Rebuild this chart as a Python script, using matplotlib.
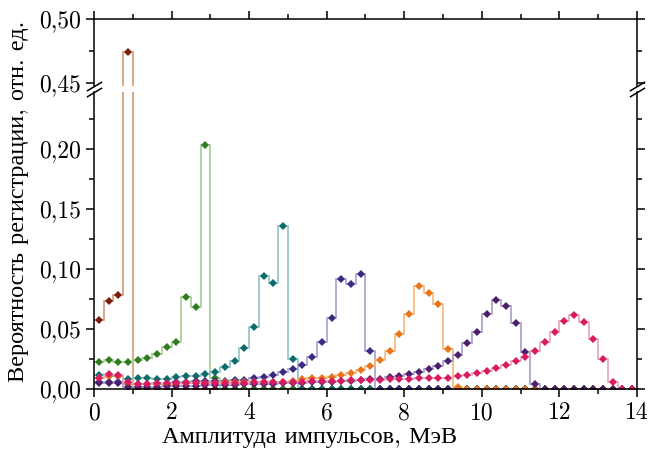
import numpy as np
import matplotlib
matplotlib.use("Agg")
import matplotlib.pyplot as plt
from matplotlib.ticker import MultipleLocator, FuncFormatter

plt.rcParams['font.family'] = ['cmr10', 'Liberation Serif']
plt.rcParams['axes.unicode_minus'] = False

edges = np.arange(0, 14.01, 0.25)
centers = (edges[:-1] + edges[1:]) / 2

brown = [0.0575, 0.073, 0.078, 0.474] + [0.0] * 52
green = [0.0228, 0.0239, 0.0228, 0.0228, 0.0242, 0.0256, 0.029, 0.0347, 0.0394,
         0.077, 0.0686, 0.2035, 0.009] + [0.0] * 43
teal = [0.0114, 0.011, 0.011, 0.008, 0.0089, 0.0089, 0.008, 0.008, 0.0097, 0.0106,
        0.0106, 0.0122, 0.0144, 0.0186, 0.0233, 0.0339, 0.052, 0.0945, 0.088, 0.136,
        0.0247] + [0.0] * 35
indigo = [0.006, 0.006, 0.006, 0.004, 0.004, 0.004, 0.0042, 0.0045, 0.0055, 0.006,
          0.0063, 0.0066, 0.0068, 0.007, 0.0072, 0.0078, 0.0092, 0.0103, 0.0117, 0.014,
          0.0165, 0.020, 0.027, 0.0394, 0.0594, 0.092, 0.0878, 0.096, 0.0317] + [0.0] * 27
orange = [0.009, 0.011, 0.011, 0.004, 0.004, 0.004, 0.0042, 0.0043, 0.0045, 0.0047,
          0.005, 0.0052, 0.0053, 0.0055, 0.0056, 0.0057, 0.0058, 0.006, 0.006, 0.006,
          0.0063, 0.008, 0.0089, 0.009, 0.0103, 0.0117, 0.0136, 0.0158, 0.019, 0.024,
          0.0317, 0.0456, 0.0628, 0.086, 0.0797, 0.0706, 0.033, 0.0014] + [0.0] * 18
violet = [0.005, 0.005, 0.005, 0.002, 0.002, 0.002, 0.002, 0.0022, 0.0024, 0.0026,
          0.0028, 0.003, 0.0032, 0.0034, 0.0036, 0.0038, 0.004, 0.0042, 0.0044, 0.0046,
          0.0049, 0.0052, 0.0055, 0.0058, 0.0062, 0.0066, 0.007, 0.0075, 0.008, 0.0086,
          0.0097, 0.011, 0.0122, 0.0139, 0.0164, 0.019, 0.0236, 0.0283, 0.038, 0.0478,
          0.0625, 0.074, 0.0694, 0.0547, 0.0306, 0.004] + [0.0] * 10
pink = [0.009, 0.0125, 0.0115, 0.0055, 0.0045, 0.0045, 0.0046, 0.0047, 0.0048, 0.0049,
        0.005, 0.005, 0.0051, 0.0052, 0.0053, 0.0054, 0.0055, 0.0056, 0.0057, 0.0058,
        0.006, 0.0061, 0.0063, 0.0065, 0.0067, 0.0069, 0.0071, 0.0073, 0.0075, 0.0077,
        0.008, 0.0082, 0.0085, 0.0088, 0.009, 0.0093, 0.0095, 0.0105, 0.0117, 0.013,
        0.015, 0.0172, 0.020, 0.0236, 0.027, 0.0317, 0.0394, 0.0478, 0.057, 0.0617,
        0.056, 0.0417, 0.025, 0.006, 0.0, 0.0]

series = [
    (brown, '#7a1c0e', '#d39b74'),
    (green, '#2e7d1f', '#a9c993'),
    (teal, '#0c6b6b', '#8fc3c5'),
    (indigo, '#3a2a80', '#a79ed2'),
    (orange, '#ea7418', '#f4b777'),
    (violet, '#4b1f6e', '#a99bc9'),
    (pink, '#d81b60', '#e9a2bc'),
]

fig = plt.figure(figsize=(6.49, 4.5), dpi=100)
ax_lo = fig.add_axes([0.1448, 0.1356, 0.8367, 0.66])
ax_hi = fig.add_axes([0.1448, 0.8099, 0.8367, 0.1479])

for ax in (ax_lo, ax_hi):
    for vals, mc, lc in series:
        ax.stairs(vals, edges, baseline=None, color=lc, lw=1.2)
        ax.plot(centers, vals, 'D', color=mc, ms=3.9, mew=0)
    ax.set_xlim(0, 14)
    ax.xaxis.set_major_locator(MultipleLocator(2))
    ax.xaxis.set_minor_locator(MultipleLocator(1))
    ax.tick_params(which='major', direction='out', length=6, width=1.1, labelsize=17)
    ax.tick_params(which='minor', direction='out', length=3.5, width=1.1)
    for s in ax.spines.values():
        s.set_linewidth(1.1)

fmt = FuncFormatter(lambda v, p: ('%.2f' % v).replace('.', ','))

ax_lo.set_ylim(0, 0.2475)
ax_lo.yaxis.set_major_locator(MultipleLocator(0.05))
ax_lo.yaxis.set_minor_locator(MultipleLocator(0.025))
ax_lo.yaxis.set_major_formatter(fmt)
ax_lo.xaxis.set_major_formatter(FuncFormatter(lambda v, p: '%d' % v))
ax_lo.spines['top'].set_visible(False)
ax_lo.tick_params(which='both', right=True, top=False)

ax_hi.set_ylim(0.448, 0.50)
ax_hi.yaxis.set_major_locator(MultipleLocator(0.05))
ax_hi.yaxis.set_minor_locator(MultipleLocator(0.025))
ax_hi.yaxis.set_major_formatter(fmt)
ax_hi.spines['bottom'].set_visible(False)
ax_hi.tick_params(which='both', right=True, top=True, bottom=False, labelbottom=False)

# break marks
d = 0.6
kw = dict(marker=[(-1, -d), (1, d)], markersize=11, linestyle='none',
          color='k', mec='k', mew=1.1, clip_on=False)
ax_hi.plot([0, 1], [0, 0], transform=ax_hi.transAxes, **kw)
ax_lo.plot([0, 1], [1, 1], transform=ax_lo.transAxes, **kw)

fig.text(0.477, 0.028, 'Амплитуда импульсов, МэВ', ha='center', va='center', fontsize=17.5)
fig.text(0.028, 0.553, 'Вероятность регистрации, отн. ед.', ha='center', va='center',
         rotation=90, fontsize=17.5)

fig.savefig('out.png', dpi=100)
